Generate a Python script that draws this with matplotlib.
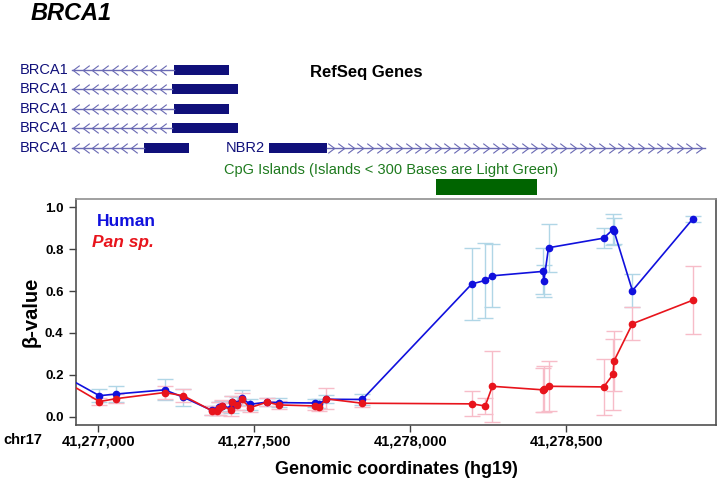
import numpy as np
import matplotlib
matplotlib.use("Agg")
import matplotlib.pyplot as plt
from matplotlib.path import Path
from matplotlib.patches import Rectangle
from matplotlib.ticker import FixedLocator, FuncFormatter

plt.rcParams['font.family'] = ['Liberation Sans', 'DejaVu Sans']

# ---- data ----
positions = [41276900, 41277003, 41277057, 41277212, 41277272, 41277363, 41277379,
             41277388, 41277396, 41277425, 41277428, 41277443, 41277459, 41277486,
             41277540, 41277579, 41277695, 41277708, 41277730, 41277846, 41278197,
             41278240, 41278263, 41278425, 41278428, 41278443, 41278620, 41278650,
             41278653, 41278712, 41278905]
human = [0.185, 0.100, 0.108, 0.128, 0.093, 0.030, 0.030, 0.045, 0.052, 0.040, 0.070,
         0.062, 0.090, 0.059, 0.069, 0.067, 0.065, 0.062, 0.083, 0.082, 0.634, 0.651,
         0.673, 0.694, 0.648, 0.807, 0.853, 0.895, 0.887, 0.602, 0.944]
human_err = [0.03, 0.03, 0.04, 0.05, 0.04, 0.02, 0.02, 0.025, 0.025, 0.025, 0.03,
             0.03, 0.035, 0.025, 0.02, 0.02, 0.02, 0.02, 0.02, 0.025, 0.17, 0.18,
             0.15, 0.11, 0.077, 0.115, 0.048, 0.073, 0.06, 0.08, 0.014]
pan = [0.162, 0.072, 0.086, 0.115, 0.100, 0.029, 0.027, 0.040, 0.051, 0.033, 0.069,
       0.056, 0.082, 0.043, 0.069, 0.056, 0.051, 0.048, 0.085, 0.064, 0.061, 0.051,
       0.145, 0.128, 0.130, 0.145, 0.142, 0.202, 0.266, 0.444, 0.556]
pan_err = [0.02, 0.015, 0.02, 0.03, 0.03, 0.02, 0.02, 0.03, 0.03, 0.03, 0.03,
           0.025, 0.03, 0.02, 0.02, 0.02, 0.02, 0.02, 0.05, 0.02, 0.06, 0.04,
           0.17, 0.105, 0.11, 0.12, 0.135, 0.17, 0.145, 0.08, 0.163]

xticks = [41277000, 41277500, 41278000, 41278500]
yticks = [0.0, 0.2, 0.4, 0.6, 0.8, 1.0]

# gene track (genomic coordinates)
brca1_start = 41276916
brca1_exons = [(41277243, 41277417), (41277236, 41277449), (41277243, 41277417),
               (41277236, 41277449), (41277147, 41277290)]
nbr2_exon = (41277547, 41277733)
nbr2_end = 41278946
cpg_island = (41278081, 41278405)

XMIN, XMAX = 41276928, 41278980
W, H = 722, 480

fig = plt.figure(figsize=(W / 100, H / 100), dpi=100)
ax = fig.add_axes([76 / W, 1 - 425 / H, 640 / W, 226 / H])

# header axes over the whole figure, same genomic scale as the plot
scale = (XMAX - XMIN) / (640 / W)
hx = fig.add_axes([0, 0, 1, 1], zorder=-1)
hx.set_xlim(XMIN - (76 / W) * scale, XMIN + (1 - 76 / W) * scale)
hx.set_ylim(H, 0)
hx.axis('off')

navy = '#10107a'
intron = '#6a6ab4'
left_chev = Path([(0.4, 0.6), (-0.4, 0), (0.4, -0.6)], [Path.MOVETO, Path.LINETO, Path.LINETO])
right_chev = Path([(-0.4, 0.6), (0.4, 0), (-0.4, -0.6)], [Path.MOVETO, Path.LINETO, Path.LINETO])
step = 31

rows = [70, 89, 109, 128, 148]
for y, (s, e) in zip(rows, brca1_exons):
    hx.plot([brca1_start, s], [y, y], color=intron, lw=1)
    cx = np.arange(brca1_start + 12, s - 8, step)
    hx.plot(cx, [y] * len(cx), ls='none', marker=left_chev, ms=7, mec=intron,
            mfc='none', mew=0.8)
    hx.add_patch(Rectangle((s, y - 5), e - s, 10, color=navy, lw=0))
    fig.text(20 / W, 1 - y / H, 'BRCA1', color=navy, fontsize=10.5, va='center', ha='left')

y = 148
hx.plot([nbr2_exon[1], nbr2_end], [y, y], color=intron, lw=1)
cx = np.arange(nbr2_exon[1] + 14, nbr2_end, step)
hx.plot(cx, [y] * len(cx), ls='none', marker=right_chev, ms=7, mec=intron,
        mfc='none', mew=0.8)
hx.add_patch(Rectangle((nbr2_exon[0], y - 5), nbr2_exon[1] - nbr2_exon[0], 10, color=navy, lw=0))
fig.text(226 / W, 1 - y / H, 'NBR2', color=navy, fontsize=10.5, va='center', ha='left')

hx.add_patch(Rectangle((cpg_island[0], 179), cpg_island[1] - cpg_island[0], 16,
                       color='#006400', lw=0))
fig.text(391 / W, 1 - 170 / H, 'CpG Islands (Islands < 300 Bases are Light Green)',
         color='#1e7a1e', fontsize=10.5, ha='center', va='center')
fig.text(310 / W, 1 - 72 / H, 'RefSeq Genes', fontsize=12, fontweight='bold',
         ha='left', va='center')
fig.text(31 / W, 1 - 14 / H, 'BRCA1', fontsize=17, fontweight='bold',
         fontstyle='italic', ha='left', va='center')

# ---- main plot ----
ax.errorbar(positions, human, yerr=human_err, fmt='none', ecolor='#b0d6e6',
            elinewidth=1, capsize=5.5, capthick=1, zorder=1)
ax.errorbar(positions, pan, yerr=pan_err, fmt='none', ecolor='#f7bcc8',
            elinewidth=1, capsize=5.5, capthick=1, zorder=1)
ax.plot(positions, human, color='#1010dd', lw=1.2, marker='o', ms=4.5, zorder=3)
ax.plot(positions, pan, color='#e8141c', lw=1.2, marker='o', ms=4.5, zorder=4)

ax.set_xlim(XMIN, XMAX)
ax.set_ylim(-0.04, 1.04)
ax.xaxis.set_major_locator(FixedLocator(xticks))
ax.xaxis.set_major_formatter(FuncFormatter(lambda v, p: f"{int(v):,}"))
ax.yaxis.set_major_locator(FixedLocator(yticks))
ax.yaxis.set_major_formatter(FuncFormatter(lambda v, p: f"{v:.1f}"))
for lab in ax.get_xticklabels():
    lab.set_fontweight('bold')
    lab.set_fontsize(10.5)
for lab in ax.get_yticklabels():
    lab.set_fontweight('bold')
    lab.set_fontsize(9.5)
ax.tick_params(direction='out', length=5, width=1, color='#404040')
ax.tick_params(axis='x', pad=2)
ax.tick_params(axis='y', pad=4)
for sp in ax.spines.values():
    sp.set_color('#505050')
    sp.set_linewidth(1.2)
ax.spines['top'].set_color('#909090')

ax.set_ylabel('β-value', fontsize=14.5, fontweight='bold', labelpad=3)
ax.set_xlabel('Genomic coordinates (hg19)', fontsize=13, fontweight='bold', labelpad=9)
fig.text(3 / W, 1 - 440 / H, 'chr17', fontsize=10.5, fontweight='bold', va='center')

ax.text(97 / W, 1 - 222 / H, 'Human', transform=fig.transFigure, color='#1010dd',
        fontsize=12.5, fontweight='bold', va='center')
ax.text(92 / W, 1 - 243 / H, 'Pan sp.', transform=fig.transFigure, color='#e8141c',
        fontsize=12.5, fontweight='bold', fontstyle='italic', va='center')

fig.savefig('out.png', dpi=100)
